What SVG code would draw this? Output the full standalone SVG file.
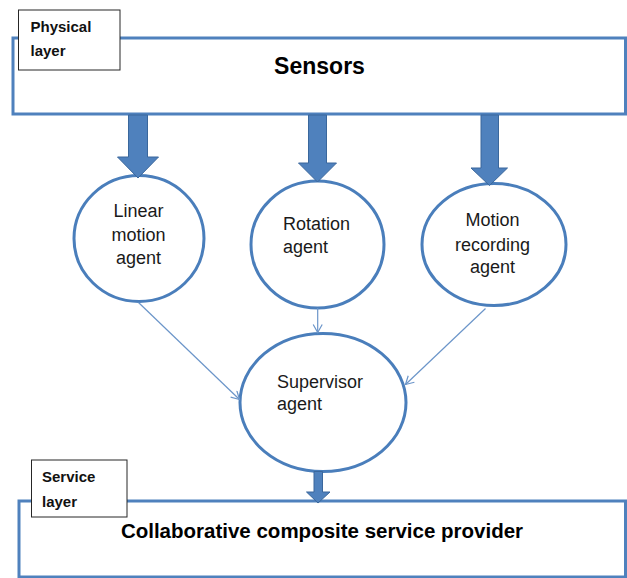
<svg xmlns="http://www.w3.org/2000/svg" width="627" height="578" viewBox="0 0 627 578">
  <style>
    .layer { fill: #ffffff; stroke: #4f81bd; stroke-width: 3; }
    .tag { fill: #ffffff; stroke: #262626; stroke-width: 1; }
    .tagtext { font-family: "Liberation Sans", Arial, sans-serif; font-weight: bold; font-size: 15px; fill: #111111; }
    .title { font-family: "Liberation Sans", Arial, sans-serif; font-weight: bold; fill: #000000; text-anchor: middle; }
    .agent { fill: #ffffff; stroke: #4a7ebb; stroke-width: 3; }
    .label { font-family: "Liberation Sans", Arial, sans-serif; font-size: 18px; fill: #1a1a1a; }
    .mid { text-anchor: middle; }
    .fat { fill: #4f81bd; stroke: #3a679c; stroke-width: 1; }
    .thin { fill: none; stroke: #6b95c9; stroke-width: 1.2; marker-end: url(#vhead); }
  </style>
  <defs>
    <marker id="vhead" markerWidth="12" markerHeight="12" refX="9" refY="5" orient="auto" markerUnits="userSpaceOnUse">
      <path d="M1,0.5 L9,5 L1,9.5" fill="none" stroke="#6b95c9" stroke-width="1.2"/>
    </marker>
  </defs>

  <!-- Physical layer -->
  <g id="sensors">
    <rect class="layer" x="13" y="38" width="612.5" height="76"/>
    <text class="title" x="319.5" y="74" font-size="23">Sensors</text>
  </g>
  <g id="physical-layer">
    <rect class="tag" x="18.5" y="10" width="101.5" height="60"/>
    <text class="tagtext" x="30.5" y="32">Physical</text>
    <text class="tagtext" x="30.5" y="56">layer</text>
  </g>

  <!-- Service layer -->
  <g id="service-provider">
    <rect class="layer" x="19" y="501" width="606.5" height="76"/>
    <text class="title" x="322" y="537.5" font-size="20.5">Collaborative composite service provider</text>
  </g>
  <g id="service-layer">
    <rect class="tag" x="31.5" y="460" width="95.5" height="57"/>
    <text class="tagtext" x="42" y="481.5">Service</text>
    <text class="tagtext" x="42" y="506.5">layer</text>
  </g>

  <!-- Agents -->
  <g id="linear-motion-agent">
    <ellipse class="agent" cx="139" cy="238.5" rx="65" ry="63"/>
    <text class="label mid" x="138.5" y="217">Linear</text>
    <text class="label mid" x="138.5" y="241">motion</text>
    <text class="label mid" x="138.5" y="264">agent</text>
  </g>
  <g id="rotation-agent">
    <ellipse class="agent" cx="317.5" cy="244.5" rx="66.5" ry="63.5"/>
    <text class="label" x="283" y="229.5">Rotation</text>
    <text class="label" x="283" y="252.5">agent</text>
  </g>
  <g id="motion-recording-agent">
    <ellipse class="agent" cx="494" cy="244.5" rx="72" ry="61"/>
    <text class="label mid" x="492.5" y="226">Motion</text>
    <text class="label mid" x="492.5" y="250.5">recording</text>
    <text class="label mid" x="492.5" y="272.5">agent</text>
  </g>
  <g id="supervisor-agent">
    <ellipse class="agent" cx="323" cy="402.5" rx="83" ry="69"/>
    <text class="label" x="277" y="387.5">Supervisor</text>
    <text class="label" x="277" y="410">agent</text>
  </g>

  <!-- Connectors -->
  <g id="connectors">
    <polygon class="fat" points="128.5,115 147.5,115 147.5,157 158.5,157 138,178 117.5,157 128.5,157"/>
    <polygon class="fat" points="308.5,115 326.5,115 326.5,163 336.5,163 317.5,182 298.5,163 308.5,163"/>
    <polygon class="fat" points="481,115 498.5,115 498.5,168 507.5,168 489.5,185.5 471,168 481,168"/>
    <polygon class="fat" points="314,471.5 322.5,471.5 322.5,492 330,492 318,503 306.5,492 314,492"/>
    <path class="thin" d="M138.5,302.5 L239.5,399.5"/>
    <path class="thin" d="M317.7,308 L317.7,332.5"/>
    <path class="thin" d="M485.5,308.5 L405.5,384.5"/>
  </g>
</svg>
